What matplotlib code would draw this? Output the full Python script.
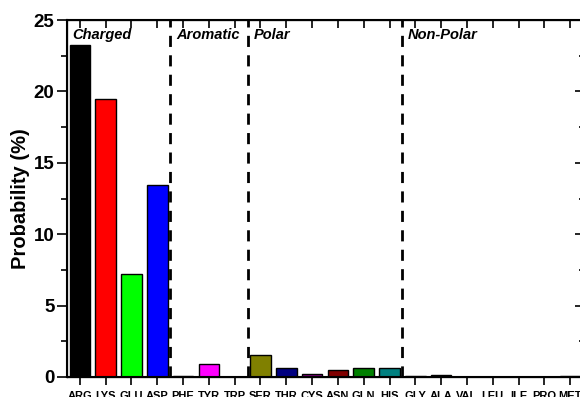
import matplotlib
matplotlib.use("Agg")
from matplotlib import pyplot as plt
from matplotlib.ticker import MultipleLocator

plt.rcParams['font.family'] = ['Liberation Sans', 'DejaVu Sans']

residues = ["ARG", "LYS", "GLU", "ASP", "PHE", "TYR", "TRP", "SER", "THR", "CYS",
            "ASN", "GLN", "HIS", "GLY", "ALA", "VAL", "LEU", "ILE", "PRO", "MET"]
prob = [23.25, 19.45, 7.2, 13.45, 0.05, 0.9, 0.02, 1.55, 0.63, 0.23,
        0.49, 0.63, 0.6, 0.1, 0.14, 0.0, 0.0, 0.03, 0.03, 0.05]
colors = ["#000000", "#FF0000", "#00FF00", "#0000FF", "#00FFFF", "#FF00FF", "#FFFF00",
          "#808000", "#000080", "#800080", "#800000", "#008000", "#008080", "#0000A0",
          "#FF8000", "#8000FF", "#FF0080", "#FFFFFF", "#C0C0C0", "#808080"]
group_names = ["Charged", "Aromatic", "Polar", "Non-Polar"]
group_starts = [0, 4, 7, 13]

fig = plt.figure(figsize=(5.8, 3.97), dpi=100)
ax = fig.add_axes([0.1155, 0.0504, 0.8897, 0.8992])

x = list(range(len(residues)))
ax.bar(x, prob, width=0.8, color=colors, edgecolor="black", linewidth=1)

# group separators
for s in group_starts[1:]:
    ax.axvline(s - 0.5, color="black", lw=2, ls=(0, (4, 3)))
for name, s in zip(group_names, group_starts):
    ax.text(s - 0.5 + 0.22, 24.45, name, fontsize=10.5, fontweight="bold", style="italic",
            va="top", ha="left")

ax.set_xlim(-0.5, len(residues) - 0.5)
ax.set_ylim(0, 25)
ax.set_xticks(x)
ax.set_xticklabels(residues, fontsize=8, fontweight="bold")
ax.yaxis.set_major_locator(MultipleLocator(5))
ax.yaxis.set_minor_locator(MultipleLocator(2.5))
for lab in ax.get_yticklabels():
    lab.set_fontweight("bold")
    lab.set_fontsize(13.5)
ax.set_ylabel("Probability (%)", fontsize=14.5, fontweight="bold", labelpad=3)

ax.tick_params(axis="x", which="major", direction="out", length=6, width=1.2, pad=4)
ax.tick_params(axis="y", which="major", direction="out", length=7, width=1.2, pad=2)
ax.tick_params(axis="y", which="minor", direction="out", length=4, width=1.2)
for sp in ax.spines.values():
    sp.set_linewidth(1.5)

# inward ticks on top and right axes
ax2 = ax.twinx()
ax2.set_ylim(0, 25)
ax2.yaxis.set_major_locator(MultipleLocator(5))
ax2.yaxis.set_minor_locator(MultipleLocator(2.5))
ax2.tick_params(axis="y", which="major", direction="in", length=6, width=1.2, labelright=False)
ax2.tick_params(axis="y", which="minor", direction="in", length=3, width=1.2)
ax3 = ax.twiny()
ax3.set_xlim(-0.5, len(residues) - 0.5)
ax3.set_xticks(x)
ax3.tick_params(axis="x", direction="in", length=6, width=1.2, labeltop=False)

fig.savefig("out.png", dpi=100)
